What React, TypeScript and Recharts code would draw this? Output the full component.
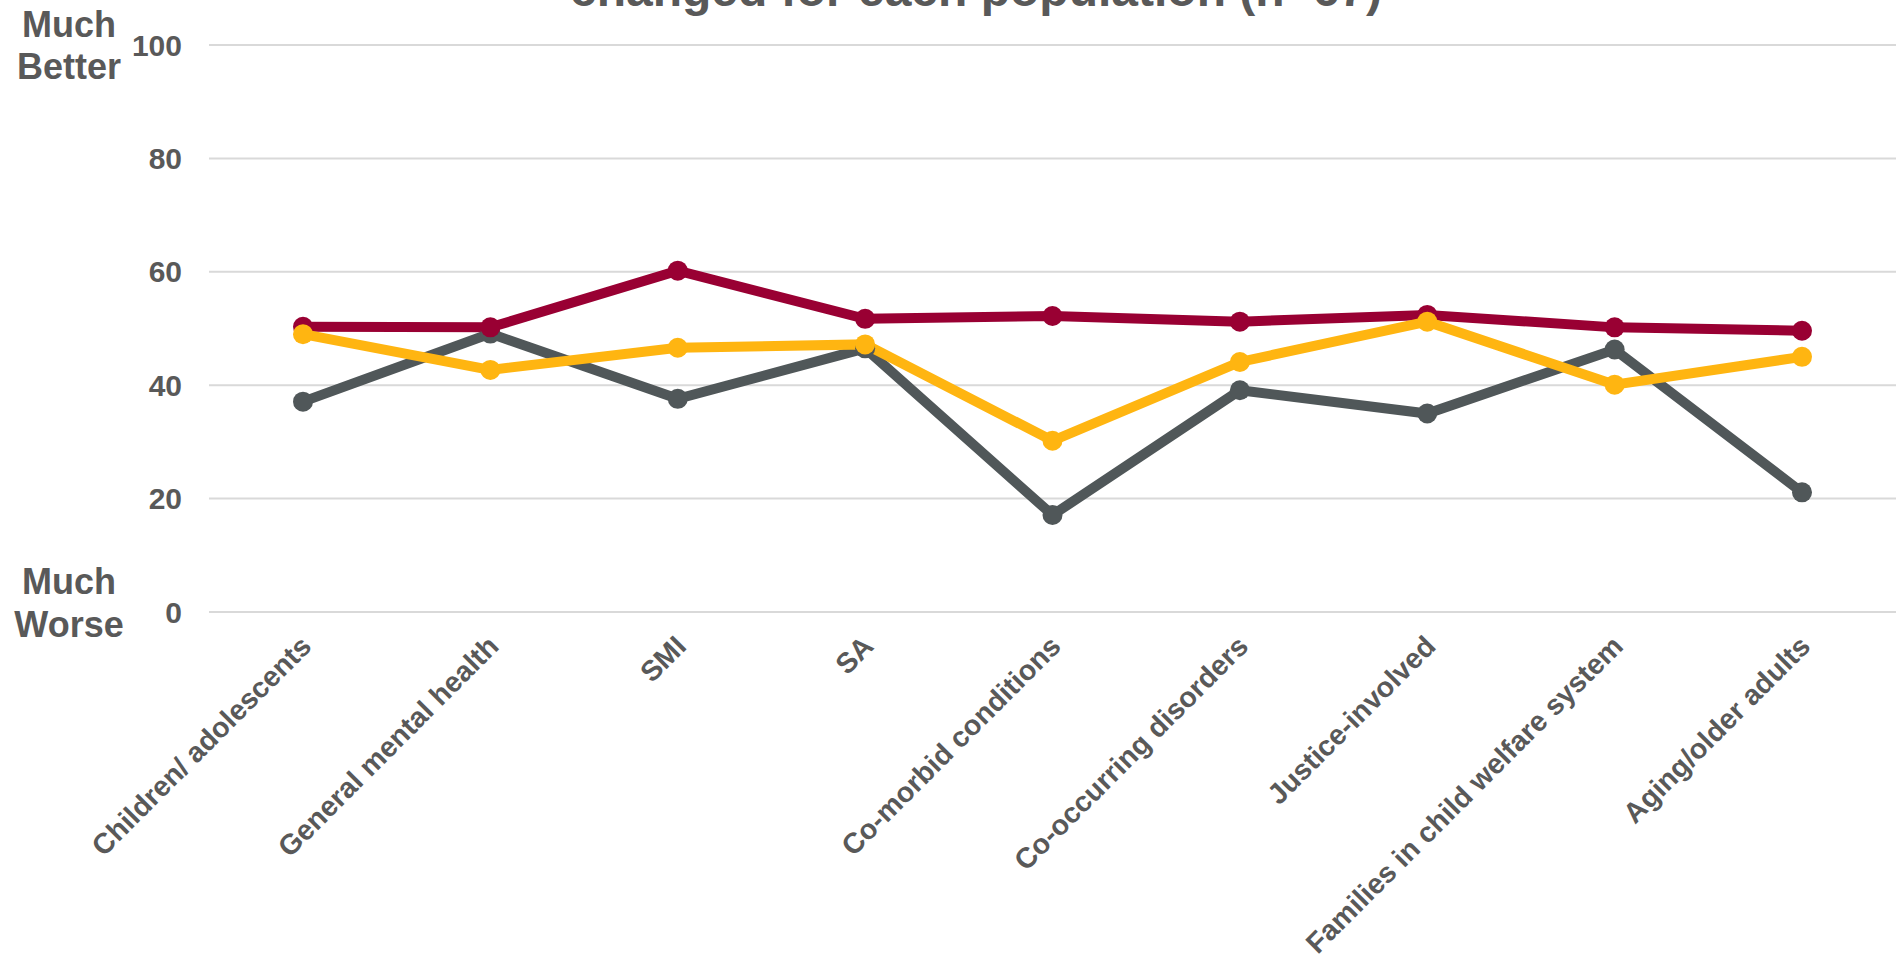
import { LineChart, Line, XAxis, YAxis, CartesianGrid } from "recharts";

const populations = [
  "Children/ adolescents",
  "General mental health",
  "SMI",
  "SA",
  "Co-morbid conditions",
  "Co-occurring disorders",
  "Justice-involved",
  "Families in child welfare system",
  "Aging/older adults",
];
const redValues = [50.3, 50.2, 60.2, 51.7, 52.2, 51.2, 52.4, 50.2, 49.6];
const grayValues = [37.1, 49.1, 37.6, 46.5, 17.1, 39.1, 35.0, 46.3, 21.1];
const yellowValues = [49.0, 42.7, 46.6, 47.2, 30.2, 44.1, 51.2, 40.1, 45.0];
const yTicks = [0, 20, 40, 60, 80, 100];
const topLabel = ["Much", "Better"];
const bottomLabel = ["Much", "Worse"];
const title = "changed for each population (n=67)";

const data = populations.map((name, i) => ({
  name,
  red: redValues[i],
  gray: grayValues[i],
  yellow: yellowValues[i],
}));

const textColor = "#595959";
const font = "'Liberation Sans', Arial, sans-serif";

function YTick(props: any) {
  const { x, y, payload } = props;
  const extra =
    payload.value === 100 ? topLabel : payload.value === 0 ? bottomLabel : null;
  const offsets = payload.value === 100 ? [-8, 34] : [-18, 25];
  return (
    <g>
      <text
        x={x}
        y={y}
        dy="0.35em"
        textAnchor="end"
        fill={textColor}
        fontSize={30}
        fontWeight="bold"
        fontFamily={font}
      >
        {payload.value}
      </text>
      {extra &&
        extra.map((t, i) => (
          <text
            key={t + i}
            x={69}
            y={y + offsets[i]}
            textAnchor="middle"
            fill={textColor}
            fontSize={36}
            fontWeight="bold"
            fontFamily={font}
          >
            {t}
          </text>
        ))}
    </g>
  );
}

function XTick(props: any) {
  const { x, y, payload } = props;
  return (
    <text
      transform={`translate(${x + 10},${y + 36}) rotate(-45)`}
      textAnchor="end"
      fill={textColor}
      fontSize={28.5}
      fontWeight="bold"
      fontFamily={font}
    >
      {payload.value}
    </text>
  );
}

export default function App() {
  return (
    <div
      style={{
        position: "absolute",
        left: 0,
        top: 0,
        width: 1896,
        height: 966,
        background: "#fff",
        overflow: "hidden",
      }}
    >
      <LineChart
        width={1896}
        height={966}
        data={data}
        margin={{ top: 45, right: 0, bottom: 0, left: 0 }}
      >
        <CartesianGrid vertical={false} stroke="#d9d9d9" strokeWidth={2} />
        <XAxis
          dataKey="name"
          interval={0}
          height={354}
          axisLine={false}
          tickLine={false}
          tickSize={0}
          tickMargin={0}
          padding={{ left: 94, right: 94 }}
          tick={<XTick />}
        />
        <YAxis
          domain={[0, 100]}
          ticks={yTicks}
          width={209}
          axisLine={false}
          tickLine={false}
          tickSize={0}
          tickMargin={27}
          tick={<YTick />}
        />
        <Line
          dataKey="gray"
          stroke="#505759"
          strokeWidth={10}
          dot={{ r: 10, fill: "#505759", stroke: "#505759", strokeWidth: 0 }}
          isAnimationActive={false}
        />
        <Line
          dataKey="red"
          stroke="#990033"
          strokeWidth={10}
          dot={{ r: 10, fill: "#990033", stroke: "#990033", strokeWidth: 0 }}
          isAnimationActive={false}
        />
        <Line
          dataKey="yellow"
          stroke="#FFB511"
          strokeWidth={10}
          dot={{ r: 10, fill: "#FFB511", stroke: "#FFB511", strokeWidth: 0 }}
          isAnimationActive={false}
        />
      </LineChart>
      <svg
        width={1896}
        height={60}
        style={{ position: "absolute", left: 0, top: 0 }}
      >
        <text
          x={976}
          y={6}
          textAnchor="middle"
          fill={textColor}
          fontSize={48}
          fontWeight="bold"
          fontFamily={font}
        >
          {title}
        </text>
      </svg>
    </div>
  );
}
